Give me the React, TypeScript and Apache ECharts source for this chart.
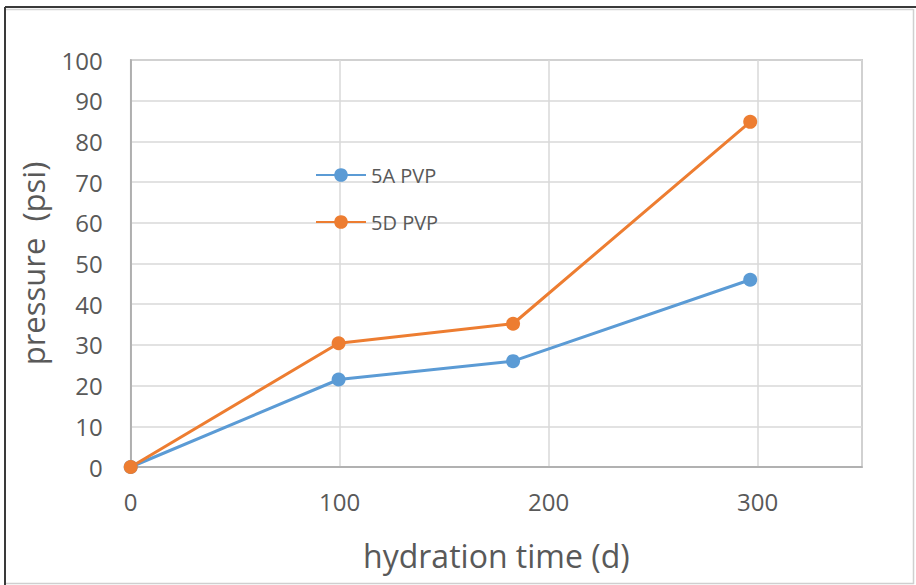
import React, { useEffect, useRef } from "react";
import * as echarts from "echarts";

// Hydration time (days) at each measurement
const hydrationDays = [0, 99.5, 183, 296.5];
// Pressure readings (psi)
const pressure5A = [0, 21.5, 26, 46];
const pressure5D = [0, 30.4, 35.2, 84.8];
const seriesNames = ["5A PVP", "5D PVP"];

const FONT = "'Open Sans', 'Noto Sans', sans-serif";
const TEXT = "#595959";

export default function App() {
  const ref = useRef<HTMLDivElement>(null);

  useEffect(() => {
    if (!ref.current) return;
    const chart = echarts.init(ref.current, undefined, { renderer: "svg" });
    const toPairs = (ys: number[]) => hydrationDays.map((x, i) => [x, ys[i]]);
    chart.setOption({
      animation: false,
      backgroundColor: "#ffffff",
      textStyle: { fontFamily: FONT },
      grid: {
        left: 130.7,
        right: 54,
        top: 60,
        bottom: 118,
        show: true,
        borderColor: "#a6a6a6",
        borderWidth: 1.5,
      },
      legend: {
        data: seriesNames,
        orient: "vertical",
        left: 310,
        top: 160,
        itemWidth: 50,
        itemHeight: 17,
        itemGap: 27,
        textStyle: { color: TEXT, fontSize: 20, fontFamily: FONT },
      },
      xAxis: {
        type: "value",
        min: 0,
        max: 350,
        interval: 100,
        name: "hydration time (d)",
        nameLocation: "middle",
        nameGap: 72,
        nameTextStyle: { color: TEXT, fontSize: 32, fontFamily: FONT },
        axisLine: { show: true, lineStyle: { color: "#a6a6a6", width: 1.5 } },
        axisTick: { show: false },
        axisLabel: {
          color: TEXT,
          fontSize: 24,
          margin: 22,
          showMaxLabel: false,
          fontFamily: FONT,
        },
        splitLine: { show: true, lineStyle: { color: "#d9d9d9", width: 1.5 } },
      },
      yAxis: {
        type: "value",
        min: 0,
        max: 100,
        interval: 10,
        name: "pressure  (psi)",
        nameLocation: "middle",
        nameGap: 82,
        nameTextStyle: { color: TEXT, fontSize: 31, fontFamily: FONT },
        axisLine: { show: true, lineStyle: { color: "#a6a6a6", width: 1.5 } },
        axisTick: { show: false },
        axisLabel: { color: TEXT, fontSize: 24, margin: 28, fontFamily: FONT },
        splitLine: { show: true, lineStyle: { color: "#d9d9d9", width: 1.5 } },
      },
      series: [
        {
          name: seriesNames[0],
          type: "line",
          data: toPairs(pressure5A),
          symbol: "circle",
          symbolSize: 14,
          lineStyle: { color: "#5b9bd5", width: 3 },
          itemStyle: { color: "#5b9bd5" },
        },
        {
          name: seriesNames[1],
          type: "line",
          data: toPairs(pressure5D),
          symbol: "circle",
          symbolSize: 14,
          lineStyle: { color: "#ed7d31", width: 3 },
          itemStyle: { color: "#ed7d31" },
        },
      ],
      graphic: [
        // outer frame: dark top/left edges, light right/bottom edges
        { type: "line", shape: { x1: 5, y1: 7, x2: 916, y2: 7 }, style: { stroke: "#3a3a3a", lineWidth: 2 } },
        { type: "line", shape: { x1: 5, y1: 7, x2: 5, y2: 585 }, style: { stroke: "#3a3a3a", lineWidth: 2 } },
        { type: "line", shape: { x1: 6, y1: 9.5, x2: 913, y2: 9.5 }, style: { stroke: "#d4d4d4", lineWidth: 1.5 } },
        { type: "line", shape: { x1: 913.5, y1: 9, x2: 913.5, y2: 584 }, style: { stroke: "#cfcfcf", lineWidth: 1.5 } },
        { type: "line", shape: { x1: 6, y1: 583.5, x2: 914, y2: 583.5 }, style: { stroke: "#cfcfcf", lineWidth: 1.5 } },
      ],
    });
    return () => chart.dispose();
  }, []);

  return (
    <div
      ref={ref}
      style={{ position: "absolute", left: 0, top: 0, width: 916, height: 585 }}
    />
  );
}
